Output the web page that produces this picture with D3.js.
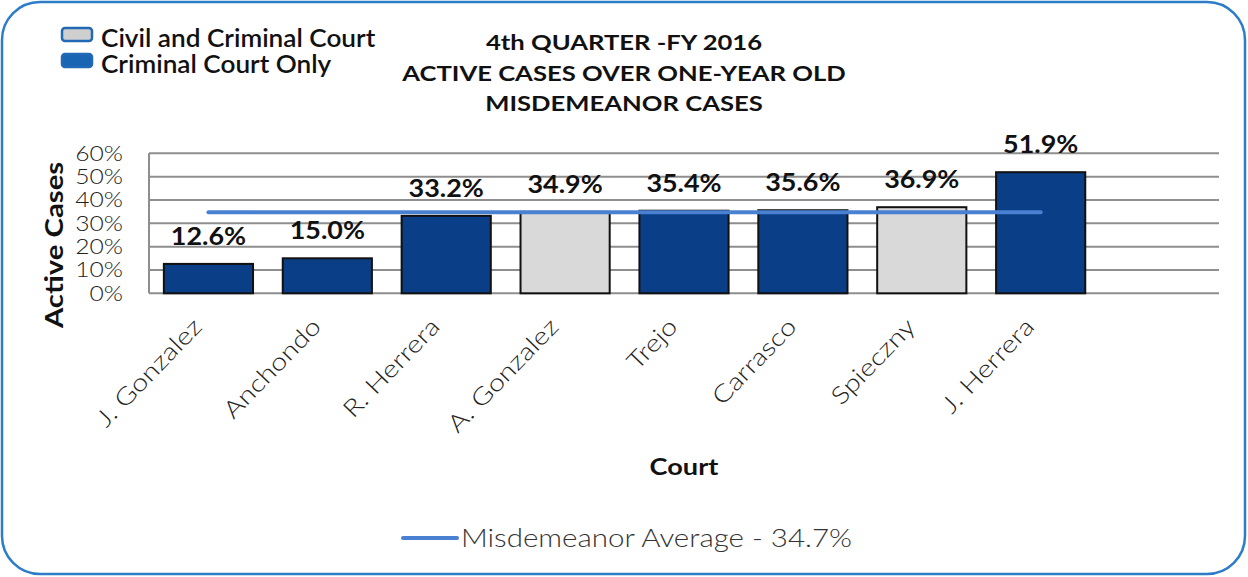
<!DOCTYPE html>
<html lang="en">
<head>
<meta charset="utf-8">
<title>Active Cases Over One-Year Old</title>
<script src="https://d3js.org/d3.v7.min.js"></script>
<style>
  html, body { margin: 0; padding: 0; background: #fff; }
  svg { display: block; font-family: "Lato", "DejaVu Sans", sans-serif; }
</style>
</head>
<body>
<svg id="chart" width="1248" height="577"></svg>
<script>
// data
const courts = ["J. Gonzalez", "Anchondo", "R. Herrera", "A. Gonzalez", "Trejo", "Carrasco", "Spieczny", "J. Herrera"];
const values = [12.6, 15.0, 33.2, 34.9, 35.4, 35.6, 36.9, 51.9];
const courtType = ["criminal", "criminal", "criminal", "civil", "criminal", "criminal", "civil", "criminal"];
const average = 34.7;
const yTicks = [0, 10, 20, 30, 40, 50, 60];
const titleLines = ["4th QUARTER -FY 2016", "ACTIVE CASES OVER ONE-YEAR OLD", "MISDEMEANOR CASES"];
const legendLabels = { civil: "Civil and Criminal Court", criminal: "Criminal Court Only" };

const colors = { civil: "#d9d9d9", criminal: "#0a3e86" };

const svg = d3.select("#chart");

// the original font is a wide geometric face; stretch Lato to its widths
function widen(sel, k) {
  sel.each(function () {
    const len = this.getComputedTextLength();
    d3.select(this).attr("textLength", len * k).attr("lengthAdjust", "spacingAndGlyphs");
  });
}

// outer rounded frame
svg.append("rect")
  .attr("x", 2).attr("y", 2)
  .attr("width", 1243).attr("height", 572)
  .attr("rx", 38).attr("ry", 38)
  .attr("fill", "#fff")
  .attr("stroke", "#2d7cc8")
  .attr("stroke-width", 2.5);

const plot = { left: 149, right: 1219, top: 153.3, bottom: 293.3 };

// 9 slots, last one empty, as in the original
const x = d3.scaleBand()
  .domain(d3.range(courts.length + 1))
  .range([plot.left, plot.right])
  .paddingInner(0.25)
  .paddingOuter(0.125);

const y = d3.scaleLinear()
  .domain([0, 60])
  .range([plot.bottom, plot.top]);

// gridlines
svg.append("g")
  .selectAll("line")
  .data(yTicks)
  .join("line")
  .attr("x1", plot.left).attr("x2", plot.right)
  .attr("y1", d => y(d)).attr("y2", d => y(d))
  .attr("stroke", "#8e8e8e")
  .attr("stroke-width", 2);

svg.append("line")
  .attr("x1", plot.left).attr("x2", plot.left)
  .attr("y1", plot.top).attr("y2", plot.bottom)
  .attr("stroke", "#8e8e8e")
  .attr("stroke-width", 2);

// y tick labels
svg.append("g")
  .selectAll("text")
  .data(yTicks)
  .join("text")
  .attr("x", 123)
  .attr("y", d => y(d) + 7.5)
  .attr("text-anchor", "end")
  .attr("font-size", 22)
  .attr("font-weight", 300)
  .attr("fill", "#222")
  .text(d => d + "%")
  .call(widen, 1.12);

// bars
svg.append("g")
  .selectAll("rect")
  .data(values)
  .join("rect")
  .attr("x", (d, i) => x(i))
  .attr("y", d => y(d))
  .attr("width", x.bandwidth())
  .attr("height", d => y(0) - y(d))
  .attr("fill", (d, i) => colors[courtType[i]])
  .attr("stroke", "#111")
  .attr("stroke-width", 2);

// value labels
svg.append("g")
  .selectAll("text")
  .data(values)
  .join("text")
  .attr("x", (d, i) => x(i) + x.bandwidth() / 2)
  .attr("y", d => y(d) - 19)
  .attr("text-anchor", "middle")
  .attr("font-size", 24)
  .attr("font-weight", 700)
  .attr("fill", "#111")
  .text(d => d.toFixed(1) + "%")
  .call(widen, 1.12);

// average line from first to last bar centre
svg.append("line")
  .attr("x1", x(0) + x.bandwidth() / 2)
  .attr("x2", x(courts.length - 1) + x.bandwidth() / 2)
  .attr("y1", y(average)).attr("y2", y(average))
  .attr("stroke", "#4a80d2")
  .attr("stroke-width", 4)
  .attr("stroke-linecap", "round");

// x category labels (rotated)
svg.append("g")
  .selectAll("text")
  .data(courts)
  .join("text")
  .attr("transform", (d, i) => `translate(${x(i) + x.bandwidth() / 2 - 5},${328}) rotate(-46)`)
  .attr("text-anchor", "end")
  .attr("font-size", 24)
  .attr("font-weight", 300)
  .attr("fill", "#222")
  .text(d => d)
  .call(widen, 1.2);

// axis titles
svg.append("text")
  .attr("transform", "translate(63,245) rotate(-90)")
  .attr("text-anchor", "middle")
  .attr("font-size", 24)
  .attr("font-weight", 700)
  .attr("fill", "#111")
  .text("Active Cases")
  .call(widen, 1.22);

svg.append("text")
  .attr("x", 684).attr("y", 475)
  .attr("text-anchor", "middle")
  .attr("font-size", 23)
  .attr("font-weight", 700)
  .attr("fill", "#111")
  .text("Court")
  .call(widen, 1.18);

// title
svg.append("g")
  .selectAll("text")
  .data(titleLines)
  .join("text")
  .attr("x", 624)
  .attr("y", (d, i) => 50 + i * 30.5)
  .attr("text-anchor", "middle")
  .attr("font-size", 21)
  .attr("font-weight", 700)
  .attr("fill", "#111")
  .text(d => d)
  .call(widen, 1.22);

// top-left legend
const legend = svg.append("g")
  .selectAll("g")
  .data(["civil", "criminal"])
  .join("g")
  .attr("transform", (d, i) => `translate(62,${28 + i * 26})`);

legend.append("rect")
  .attr("width", 30).attr("height", 13)
  .attr("rx", 3)
  .attr("fill", d => d === "civil" ? "#cfcfcf" : "#1a64b4")
  .attr("stroke", "#2168b5")
  .attr("stroke-width", 2.5);

legend.append("text")
  .attr("x", 39).attr("y", 19)
  .attr("font-size", 24)
  .attr("font-weight", 600)
  .attr("fill", "#111")
  .text(d => legendLabels[d])
  .call(widen, 1.09);

// bottom legend
svg.append("line")
  .attr("x1", 403).attr("x2", 457)
  .attr("y1", 538).attr("y2", 538)
  .attr("stroke", "#4a80d2")
  .attr("stroke-width", 4)
  .attr("stroke-linecap", "round");

svg.append("text")
  .attr("x", 461).attr("y", 547)
  .attr("font-size", 25)
  .attr("font-weight", 300)
  .attr("fill", "#333")
  .text("Misdemeanor Average - " + average + "%")
  .call(widen, 1.18);
</script>
</body>
</html>
